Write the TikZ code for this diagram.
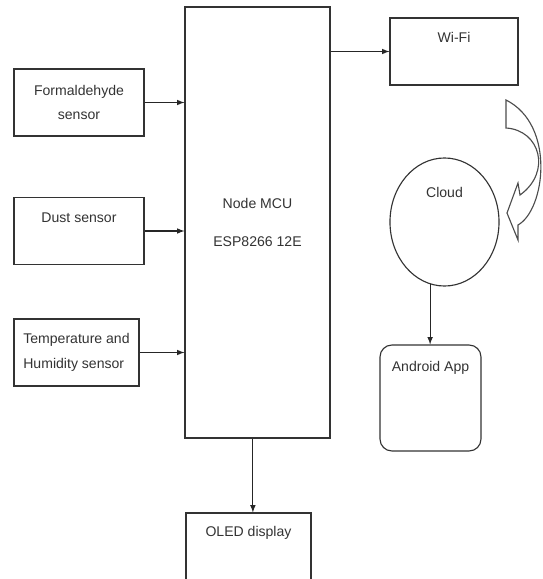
\documentclass[tikz,border=0pt]{standalone}
\usepackage{fontspec}
\setmainfont{Liberation Sans}
\usetikzlibrary{shapes, arrows, positioning, calc}

\begin{document}
\begin{tikzpicture}[
        x=0.025cm, y=-0.025cm,
        >=latex,
        every node/.style={font=\fontsize{10}{12}\selectfont, text=black!80},
        block/.style={rectangle, draw=black!80, line width=0.8pt, minimum width=3.25cm, minimum height=1.675cm, inner sep=0pt},
        cloudnode/.style={ellipse, draw=black!80, line width=0.8pt, minimum width=2.725cm, minimum height=3.2cm, inner sep=0pt},
        link/.style={->, draw=black!85, line width=0.8pt}
    ]
        \clip (0,0) rectangle (542,579);

        % Controller
        \node[block, minimum width=3.625cm, minimum height=10.775cm, align=center] (mcu) at (257.5,222.5) {Node MCU\\[15pt]ESP8266 12E};

        % Sensors
        \node[block, align=center] (form) at (79,102.5) {Formaldehyde\\[5.7pt]sensor};
        \node[block, label={[anchor=center, yshift=-0.525cm]north:Dust sensor}] (dust) at (79,231) {};
        \node[block, minimum width=3.125cm, align=left] (temp) at (76.5,352.5) {Temperature and\\[5.7pt]Humidity sensor};

        % Outputs
        \node[block, minimum width=3.2cm, label={[anchor=center, yshift=-0.5cm]north:Wi-Fi}] (wifi) at (454,51.5) {};
        \node[cloudnode, label={[anchor=center, yshift=-0.875cm]north:Cloud}] (cloud) at (444.5,222) {};
        \node[block, rounded corners=0.3cm, minimum width=2.525cm, minimum height=2.65cm, label={[anchor=center, yshift=-0.575cm]north:Android App}] (app) at (430.5,398) {};
        \node[block, minimum width=3.125cm, minimum height=2cm, label={[anchor=center, yshift=-0.5cm]north:OLED display}] (oled) at (248.5,553) {};
        \coordinate (oledin) at ([xshift=0.11cm]oled.north);

        % Data flows
        \draw[link] (form.east) -- (form.east -| mcu.west);
        \draw[link] (dust.east) -- (dust.east -| mcu.west);
        \draw[link] (temp.east) -- (temp.east -| mcu.west);
        \draw[link] (mcu.east |- wifi.west) -- (wifi.west);
        \draw[link] (oledin |- mcu.south) -- (oledin);
        \draw[link] (cloud.-103) -- (cloud.-103 |- app.north);

        % Curved upload arrow
        \draw[draw=black!70, line width=0.8pt] (506,100) -- (506,128)
            .. controls (540,130) and (552,172) .. (520,195) -- (518,183) -- (507,213) -- (518,240) -- (518,225)
            .. controls (545,210) and (556,125) .. (506,100) -- cycle;
    \end{tikzpicture}
\end{document}
